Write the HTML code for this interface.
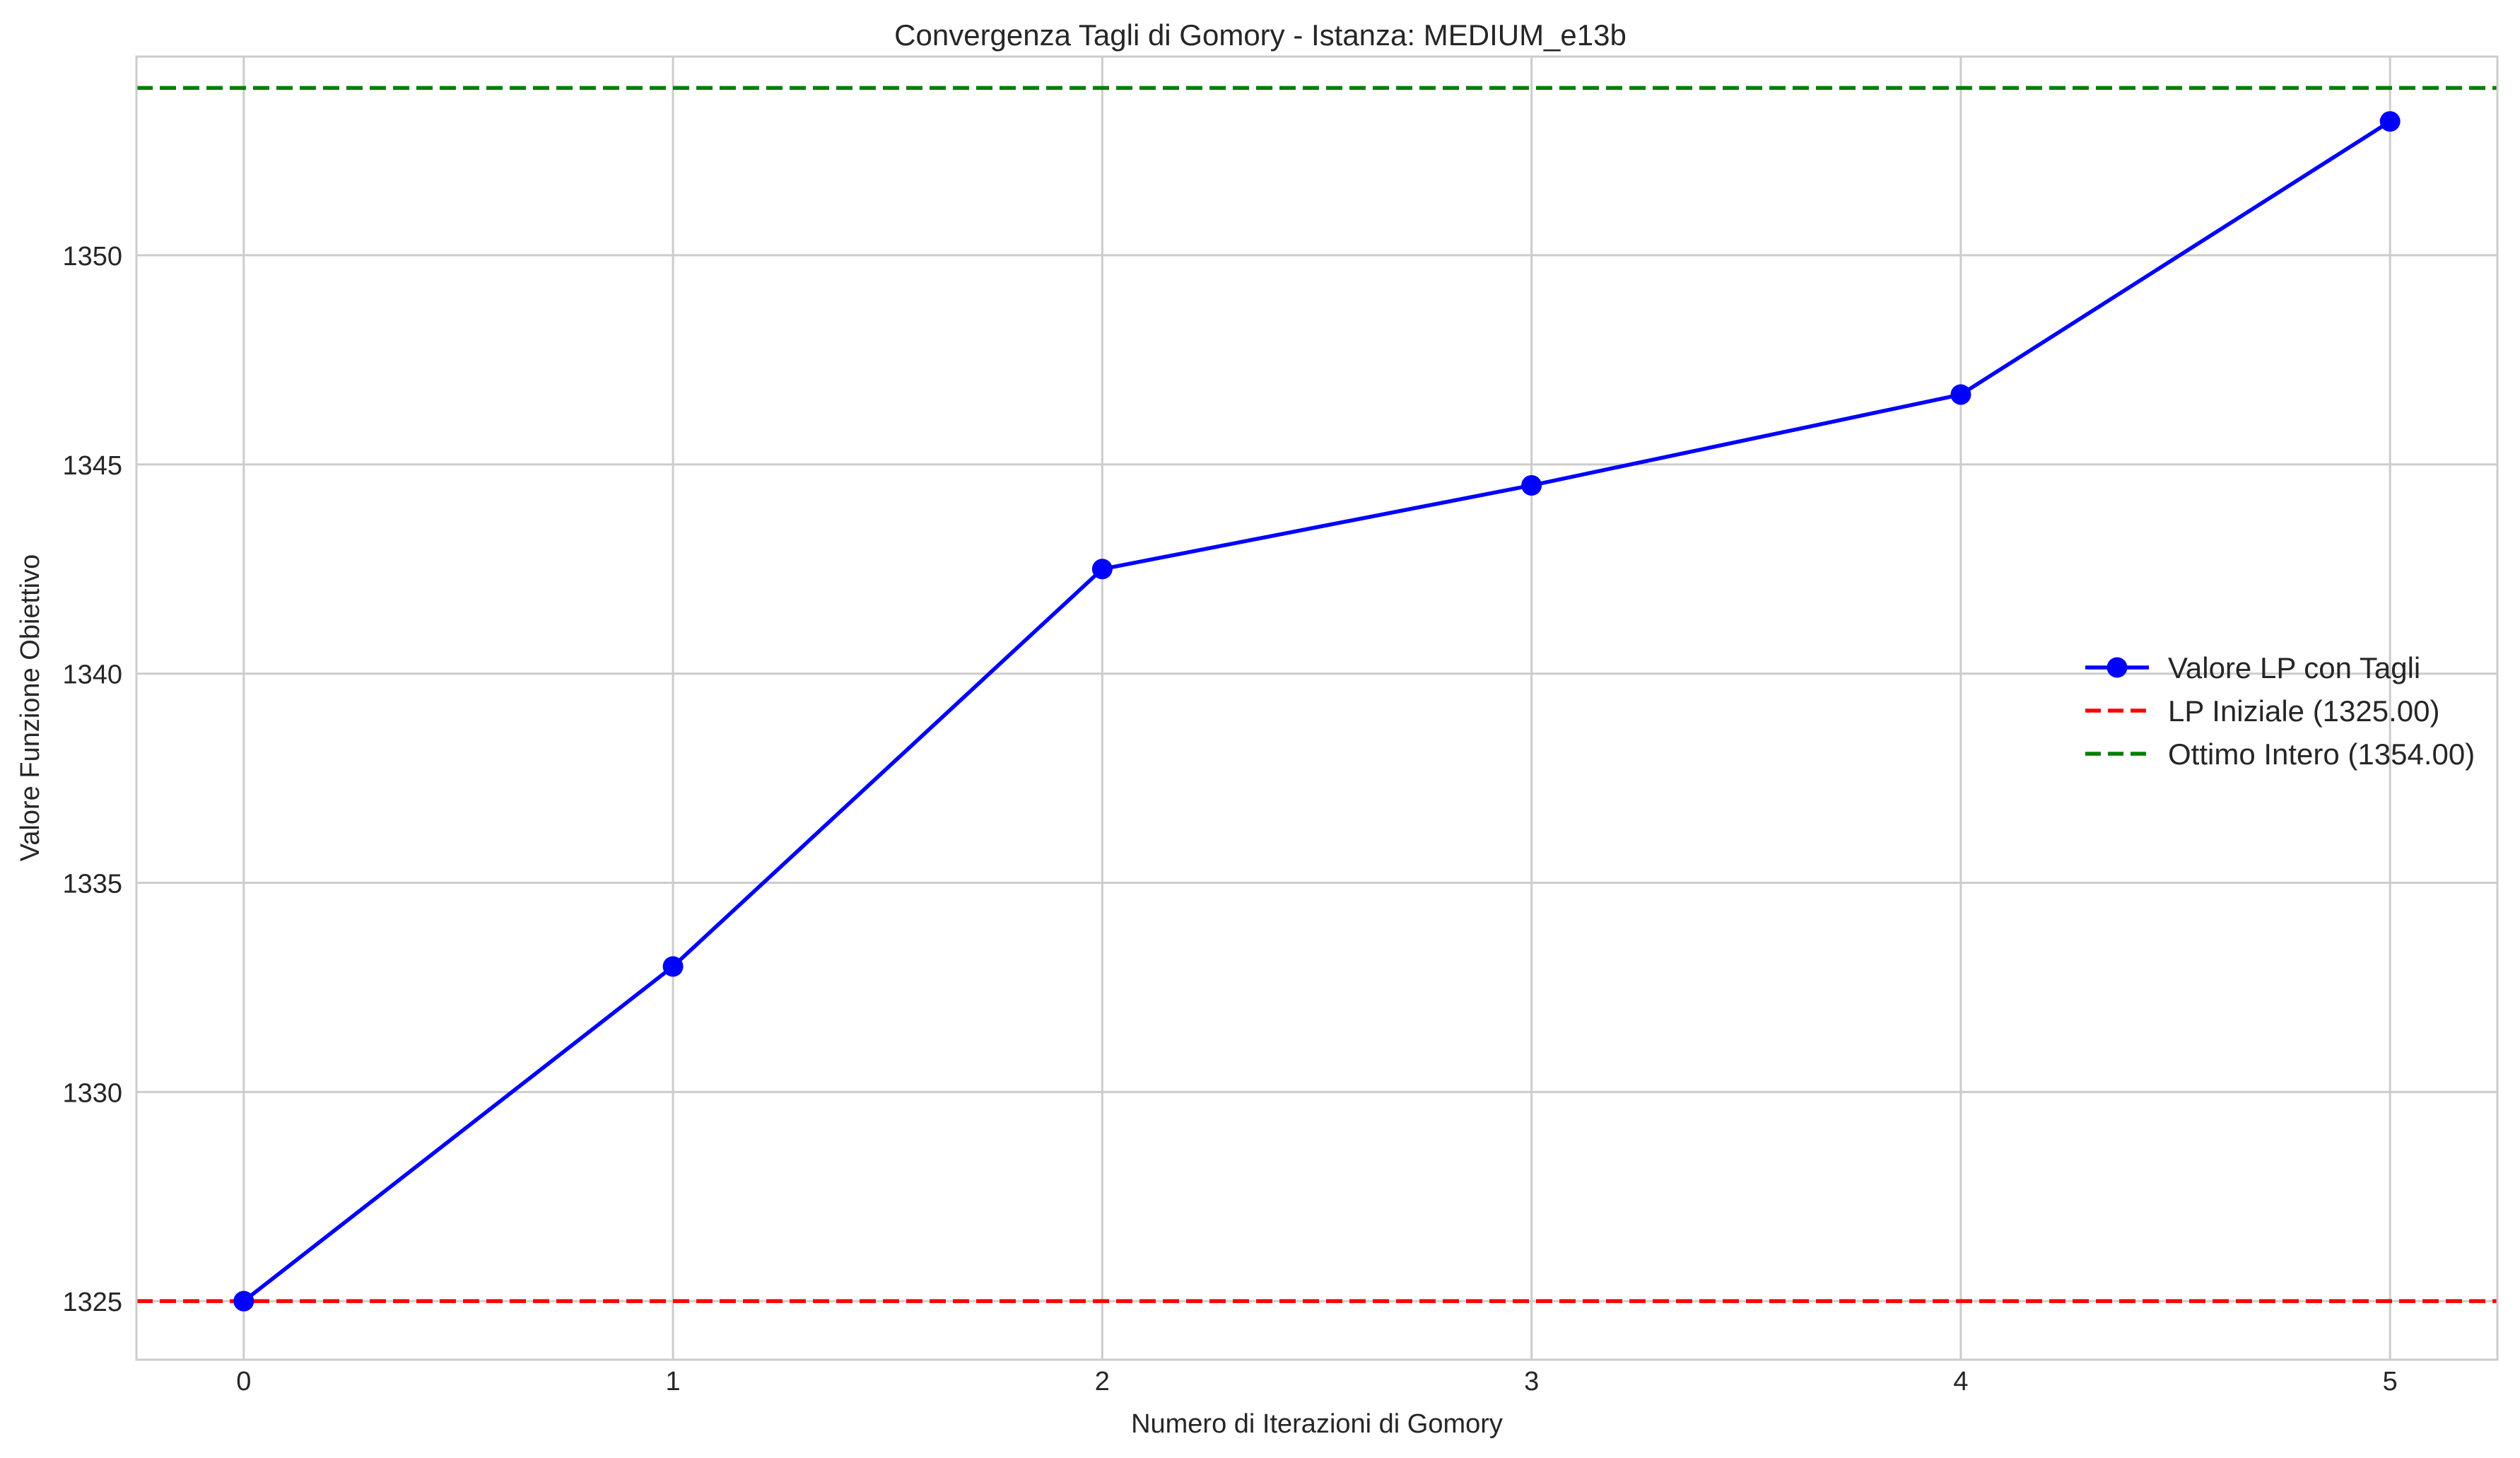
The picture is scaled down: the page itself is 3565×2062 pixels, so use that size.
<!DOCTYPE html>
<html><head><meta charset="utf-8"><style>html,body{margin:0;padding:0;background:#fff}svg{display:block}text{font-family:"Liberation Sans",Arial,sans-serif;fill:#262626}</style></head>
<body>
<svg id="chart" xmlns="http://www.w3.org/2000/svg" width="3565" height="2062" viewBox="0 0 3565 2062">
<rect width="3565" height="2062" fill="#fff"/>
<g id="grid"></g>
<g id="refs"></g>
<g id="series"></g>
<rect x="193" y="80" width="3340" height="1843" fill="none" stroke="#cccccc" stroke-width="3"/>
<g id="ticks"></g>
<text x="1783" y="64" font-size="42" text-anchor="middle">Convergenza Tagli di Gomory - Istanza: MEDIUM_e13b</text>
<text x="1863" y="2026" font-size="38" text-anchor="middle">Numero di Iterazioni di Gomory</text>
<text transform="translate(55,1001) rotate(-90)" font-size="38" text-anchor="middle">Valore Funzione Obiettivo</text>
<g id="legend"></g>
</svg>
<script>
const iterations = [0, 1, 2, 3, 4, 5];
const lpValues = [1325, 1333, 1342.5, 1344.5, 1346.67, 1353.2];
const initialLP = 1325;
const optimumInt = 1354;
const xTicks = [0, 1, 2, 3, 4, 5];
const yTicks = [1325, 1330, 1335, 1340, 1345, 1350];
const legendLabels = ["Valore LP con Tagli", "LP Iniziale (1325.00)", "Ottimo Intero (1354.00)"];

const NS = "http://www.w3.org/2000/svg";
const L = 193, R = 3533, T = 80, B = 1923;
const xMin = -0.25, xMax = 5.25, yMin = 1323.6, yMax = 1354.75;
const sx = v => L + (v - xMin) / (xMax - xMin) * (R - L);
const sy = v => B - (v - yMin) / (yMax - yMin) * (B - T);
function mk(tag, attrs, parent) { const e = document.createElementNS(NS, tag); for (const k in attrs) e.setAttribute(k, attrs[k]); parent.appendChild(e); return e; }
const grid = document.getElementById('grid'), ticks = document.getElementById('ticks'), refs = document.getElementById('refs'), series = document.getElementById('series'), legend = document.getElementById('legend');

xTicks.forEach(t => {
  const g = mk('line', {x1: sx(t), x2: sx(t), y1: T, y2: B, stroke: '#cccccc', 'stroke-width': 3}, grid);
  
  
  const tx = mk('text', {x: sx(t), y: 1966, 'font-size': 38, 'text-anchor': 'middle'}, ticks);
  tx.textContent = t;
  
  
});
yTicks.forEach(t => {
  const g = mk('line', {x1: L, x2: R, y1: sy(t), y2: sy(t), stroke: '#cccccc', 'stroke-width': 3}, grid);
  
  
  const tx = mk('text', {x: 173, y: sy(t) + 14, 'font-size': 38, 'text-anchor': 'end'}, ticks);
  tx.textContent = t;
  
  
});

const red = mk('line', {x1: L, x2: R, y1: sy(initialLP), y2: sy(initialLP), stroke: '#ff0000', 'stroke-width': 5.5, 'stroke-dasharray': '23 10'}, refs);


const green = mk('line', {x1: L, x2: R, y1: sy(optimumInt), y2: sy(optimumInt), stroke: '#008000', 'stroke-width': 5.5, 'stroke-dasharray': '23 10'}, refs);



const pts = iterations.map((x, i) => sx(x) + ',' + sy(lpValues[i])).join(' ');
const pl = mk('polyline', {points: pts, fill: 'none', stroke: '#0000ff', 'stroke-width': 5.5, 'stroke-linejoin': 'round'}, series);


iterations.forEach((x, i) => {
  const c = mk('circle', {cx: sx(x), cy: sy(lpValues[i]), r: 14.5, fill: '#0000ff'}, series);
  
  
});

const legY = [944, 1005, 1066];
const legColors = ['#0000ff', '#ff0000', '#008000'];
legendLabels.forEach((lab, i) => {
  const ln = mk('line', {x1: 2950, x2: 3040, y1: legY[i], y2: legY[i], stroke: legColors[i], 'stroke-width': 5.5, 'stroke-dasharray': i === 0 ? 'none' : '22 10'}, legend);
  
  
  if (i === 0) {
    const c = mk('circle', {cx: 2995, cy: legY[i], r: 14.5, fill: '#0000ff'}, legend);
    
    
  }
  const tx = mk('text', {x: 3067, y: legY[i] + 15, 'font-size': 42}, legend);
  tx.textContent = lab;
  
  
});
</script>
</body></html>
